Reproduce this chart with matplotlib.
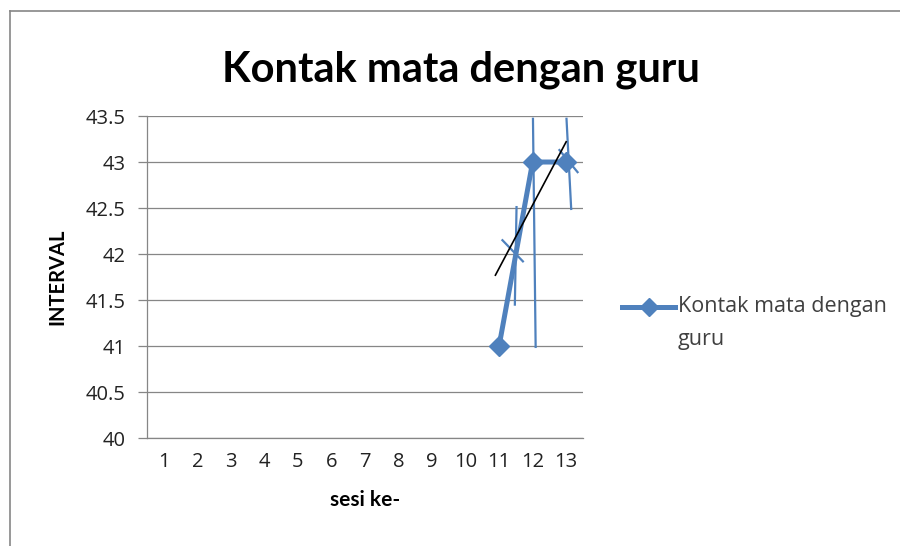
import matplotlib
matplotlib.use("Agg")
import matplotlib.pyplot as plt
from matplotlib.lines import Line2D

# seri utama
sesi = list(range(1, 14))
sesi_data = [11, 12, 13]
interval = [41, 43, 43]
nama_seri = "Kontak mata dengan guru"
legenda_baris = ["Kontak mata dengan", "guru"]

y_ticks = [40, 40.5, 41, 41.5, 42, 42.5, 43, 43.5]
y_labels = ["40", "40.5", "41", "41.5", "42", "42.5", "43", "43.5"]

# garis tipis tambahan (x0, y0, x1, y1)
garis_biru = [
    (12.01, 43.47, 12.09, 40.99),
    (13.01, 43.47, 13.15, 42.49),
    (11.52, 42.51, 11.47, 41.45),
    (11.10, 42.15, 11.71, 41.92),
    (12.80, 43.13, 13.34, 42.89),
]
garis_tren = (10.89, 41.77, 13.00, 43.22)

BIRU = "#4F81BD"
ABU = "#868686"
TEKS = "#222222"

plt.rcParams["font.family"] = ["Open Sans", "DejaVu Sans"]

fig = plt.figure(figsize=(9, 5.46), dpi=100)
ax = fig.add_axes([0.1633, 0.1978, 0.4844, 0.5897])

ax.set_xlim(0.5, 13.5)
ax.set_ylim(40, 43.5)
ax.set_yticks(y_ticks)
ax.set_yticklabels(y_labels)
ax.set_xticks(sesi)
ax.set_xticklabels([str(s) for s in sesi])

ax.grid(axis="y", color=ABU, lw=0.9)
ax.set_axisbelow(True)
for s in ["top", "right"]:
    ax.spines[s].set_visible(False)
for s in ["left", "bottom"]:
    ax.spines[s].set_color(ABU)
    ax.spines[s].set_linewidth(0.9)

ax.tick_params(axis="y", length=6.5, width=0.9, color=ABU, labelsize=14.5,
               labelcolor=TEKS, pad=9)
ax.tick_params(axis="x", length=0, labelsize=14.5, labelcolor=TEKS, pad=10)

for x0, y0, x1, y1 in garis_biru:
    ax.plot([x0, x1], [y0, y1], color=BIRU, lw=1.6, clip_on=False, zorder=3)

ax.plot(sesi_data, interval, color=BIRU, lw=3.6, marker="D", markersize=10.5,
        clip_on=False, zorder=4)

tx0, ty0, tx1, ty1 = garis_tren
ax.plot([tx0, tx1], [ty0, ty1], color="black", lw=1.2, zorder=5)

ax.set_ylabel("INTERVAL", fontsize=14.5, fontweight="bold",
              family=["Lato", "DejaVu Sans"])
ax.yaxis.set_label_coords(-0.183, 0.5)
ax.set_xlabel("sesi ke-", fontsize=15, fontweight="bold",
              family=["Lato", "DejaVu Sans"])
ax.xaxis.set_label_coords(0.5, -0.16)

fig.text(0.512, 0.85, nama_seri, ha="center", va="baseline", fontsize=30,
         fontweight="bold", family=["Lato", "DejaVu Sans"])

# legenda di kanan
ly = 1 - 307 / 546
fig.add_artist(Line2D([622 / 900, 675 / 900], [ly, ly], color=BIRU, lw=3.6,
                      transform=fig.transFigure))
fig.add_artist(Line2D([648.5 / 900], [ly], color=BIRU, marker="D",
                      markersize=9, transform=fig.transFigure))
for baris, base in zip(legenda_baris, [312, 345]):
    fig.text(678 / 900, 1 - base / 546, baris, ha="left", va="baseline",
             fontsize=15.5, color="#404040")

# bingkai grafik
fig.add_artist(Line2D([10 / 900, 1], [1 - 11 / 546] * 2, color=ABU, lw=1.2,
                      transform=fig.transFigure))
fig.add_artist(Line2D([10 / 900] * 2, [0, 1 - 11 / 546], color=ABU, lw=1.2,
                      transform=fig.transFigure))

fig.savefig("out.png", dpi=100)
